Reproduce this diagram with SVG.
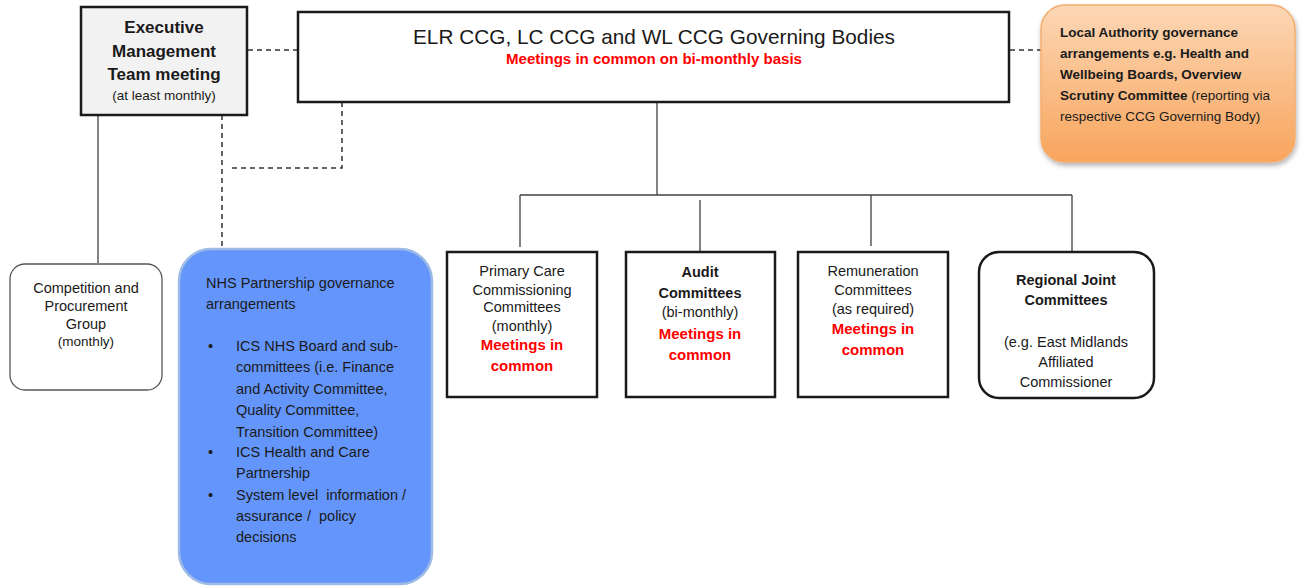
<svg xmlns="http://www.w3.org/2000/svg" width="1306" height="587" viewBox="0 0 1306 587">
<defs>
<linearGradient id="orangeGrad" x1="0" y1="0" x2="0" y2="1">
<stop offset="0" stop-color="#fcd7b6"/>
<stop offset="1" stop-color="#f8a55c"/>
</linearGradient>
<filter id="shadow" x="-10%" y="-10%" width="125%" height="130%">
<feDropShadow dx="1" dy="3" stdDeviation="2.5" flood-color="#000" flood-opacity="0.3"/>
</filter>
</defs>
<style>
text { font-family: "Liberation Sans", Arial, sans-serif; fill: #1a1a1a; }
.c { text-anchor: middle; }
.b { font-weight: bold; }
.f14 { font-size: 14.5px; }
.f13 { font-size: 13.5px; }
.red { fill: #ff0000; font-weight: bold; font-size: 15px; }
.box { fill: #ffffff; stroke: #1a1a1a; stroke-width: 2.5; }
.solid { fill: none; stroke: #404040; stroke-width: 1.3; }
.dash { fill: none; stroke: #333333; stroke-width: 1.5; stroke-dasharray: 5 4; }
</style>
<rect width="1306" height="587" fill="#ffffff"/>

<g id="connectors">
<line class="dash" x1="248" y1="50" x2="298" y2="50"/>
<line class="dash" x1="1010" y1="50" x2="1041" y2="50"/>
<line class="dash" x1="222" y1="115" x2="222" y2="249"/>
<polyline class="dash" points="342,102 342,168 230,168"/>
<line class="solid" x1="98" y1="115" x2="98" y2="263"/>
<line class="solid" x1="657" y1="102" x2="657" y2="195"/>
<line class="solid" x1="520" y1="195" x2="1072" y2="195"/>
<line class="solid" x1="520" y1="195" x2="520" y2="247"/>
<line class="solid" x1="700" y1="200" x2="700" y2="251"/>
<line class="solid" x1="871" y1="195" x2="871" y2="246"/>
<line class="solid" x1="1072" y1="195" x2="1072" y2="252"/>
</g>

<g id="exec">
<rect x="81" y="7" width="166" height="108" fill="#f2f2f2" stroke="#1a1a1a" stroke-width="2.5"/>
<text class="c b" x="164" y="33" font-size="17">Executive</text>
<text class="c b" x="164" y="57" font-size="17">Management</text>
<text class="c b" x="164" y="80" font-size="17">Team meeting</text>
<text class="c f13" x="164" y="100">(at least monthly)</text>
</g>

<g id="governing">
<rect class="box" x="298" y="12" width="711" height="90"/>
<text class="c" x="654" y="44" font-size="21" textLength="482" lengthAdjust="spacingAndGlyphs">ELR CCG, LC CCG and WL CCG Governing Bodies</text>
<text class="c" x="654" y="64" font-size="14" font-weight="bold" style="fill:#ff0000" textLength="296" lengthAdjust="spacingAndGlyphs">Meetings in common on bi-monthly basis</text>
</g>

<g id="local-authority">
<rect x="1041" y="5" width="254" height="157" rx="24" fill="url(#orangeGrad)" stroke="#f5ad6e" stroke-width="1.5" filter="url(#shadow)"/>
<text class="b f13" x="1060" y="37">Local Authority governance</text>
<text class="b f13" x="1060" y="58">arrangements e.g. Health and</text>
<text class="b f13" x="1060" y="79">Wellbeing Boards, Overview</text>
<text class="f13" x="1060" y="100"><tspan font-weight="bold">Scrutiny Committee</tspan> (reporting via</text>
<text class="f13" x="1060" y="121">respective CCG Governing Body)</text>
</g>

<g id="competition">
<rect x="10" y="264" width="152" height="126" rx="15" fill="#ffffff" stroke="#555555" stroke-width="1.3"/>
<text class="c f14" x="86" y="293">Competition and</text>
<text class="c f14" x="86" y="311">Procurement</text>
<text class="c f14" x="86" y="329">Group</text>
<text class="c f13" x="86" y="346">(monthly)</text>
</g>

<g id="nhs">
<rect x="179" y="249" width="253" height="335" rx="32" fill="#6495fb" stroke="#9dbbe6" stroke-width="2.5"/>
<text class="f14" x="206" y="288">NHS Partnership governance</text>
<text class="f14" x="206" y="309">arrangements</text>
<g class="f14">
<text x="208" y="351">•</text>
<text x="236" y="351">ICS NHS Board and sub-</text>
<text x="236" y="372">committees (i.e. Finance</text>
<text x="236" y="394">and Activity Committee,</text>
<text x="236" y="415">Quality Committee,</text>
<text x="236" y="437">Transition Committee)</text>
<text x="208" y="457">•</text>
<text x="236" y="457">ICS Health and Care</text>
<text x="236" y="478">Partnership</text>
<text x="208" y="500">•</text>
<text x="236" y="500" xml:space="preserve">System level  information /</text>
<text x="236" y="521" xml:space="preserve">assurance /  policy</text>
<text x="236" y="542">decisions</text>
</g>
</g>

<g id="primary-care">
<rect class="box" x="447" y="252" width="150" height="145"/>
<text class="c f14" x="522" y="276">Primary Care</text>
<text class="c f14" x="522" y="295">Commissioning</text>
<text class="c f14" x="522" y="312">Committees</text>
<text class="c f14" x="522" y="331">(monthly)</text>
<text class="c red" x="522" y="350">Meetings in</text>
<text class="c red" x="522" y="371">common</text>
</g>

<g id="audit">
<rect class="box" x="626" y="252" width="149" height="145"/>
<text class="c f14 b" x="700" y="277">Audit</text>
<text class="c f14 b" x="700" y="298">Committees</text>
<text class="c f14" x="700" y="317">(bi-monthly)</text>
<text class="c red" x="700" y="339">Meetings in</text>
<text class="c red" x="700" y="360">common</text>
</g>

<g id="remuneration">
<rect class="box" x="798" y="252" width="150" height="145"/>
<text class="c f14" x="873" y="276">Remuneration</text>
<text class="c f14" x="873" y="295">Committees</text>
<text class="c f14" x="873" y="314">(as required)</text>
<text class="c red" x="873" y="334">Meetings in</text>
<text class="c red" x="873" y="355">common</text>
</g>

<g id="regional">
<rect class="box" x="979" y="252" width="175" height="146" rx="20"/>
<text class="c f14 b" x="1066" y="285">Regional Joint</text>
<text class="c f14 b" x="1066" y="305">Committees</text>
<text class="c f14" x="1066" y="347">(e.g. East Midlands</text>
<text class="c f14" x="1066" y="367">Affiliated</text>
<text class="c f14" x="1066" y="387">Commissioner</text>
</g>
</svg>
